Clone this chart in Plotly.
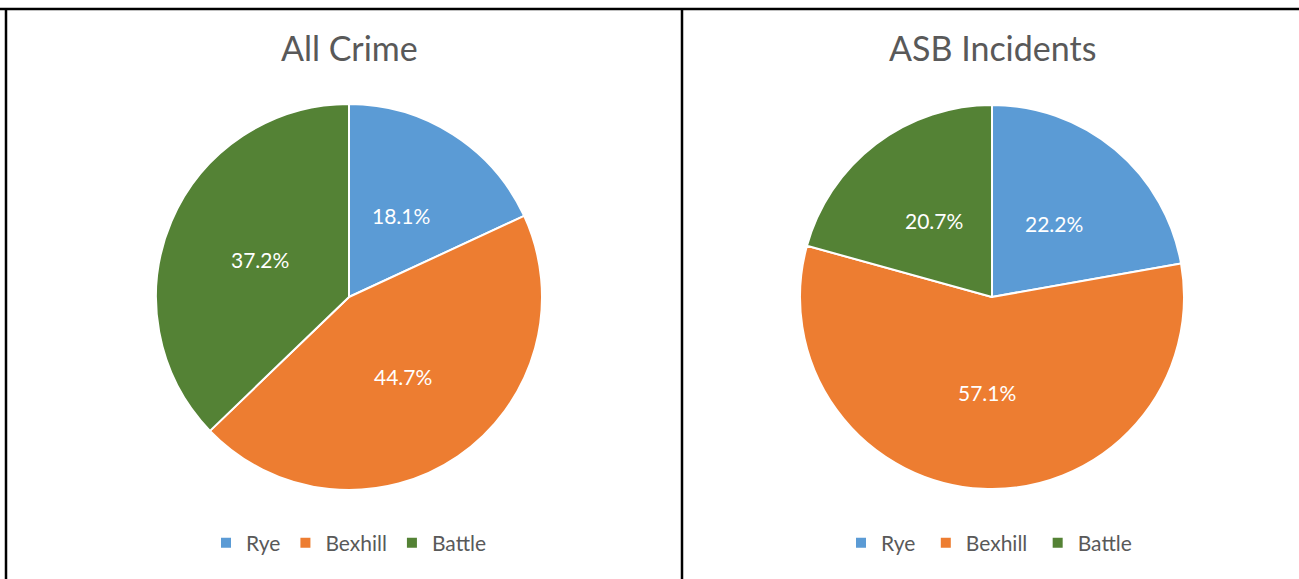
import math
import plotly.graph_objects as go

labels = ["Rye", "Bexhill", "Battle"]
all_crime = [18.1, 44.7, 37.2]
asb_incidents = [22.2, 57.1, 20.7]
titles = ["All Crime", "ASB Incidents"]
colors = ["#5B9BD5", "#ED7D31", "#548235"]

W, H = 1299, 579
FONT = "Lato, 'Open Sans', sans-serif"

# pie geometry in pixels: centre x, centre y (from top), radius
pies = [(349, 297, 193), (992, 297, 192)]
series = [all_crime, asb_incidents]

fig = go.Figure()

def dom(cx, cy, r):
    return dict(x=[(cx - r) / W, (cx + r) / W], y=[1 - (cy + r) / H, 1 - (cy - r) / H])

for i, (vals, (cx, cy, r)) in enumerate(zip(series, pies)):
    fig.add_trace(go.Pie(
        # trailing space keeps the second pie's legend entries separate from the first
        labels=[l + " " * i for l in labels], values=vals, sort=False,
        direction="clockwise", rotation=0,
        marker=dict(colors=colors, line=dict(color="white", width=2)),
        textinfo="none",
        domain=dom(cx, cy, r), legend="legend" if i == 0 else "legend2",
        hoverinfo="label+value",
    ))
    # data labels at half radius on each slice's mid-angle (Excel style)
    total = sum(vals)
    cum = 0.0
    for v in vals:
        ang = 2 * math.pi * (cum + v / 2) / total
        cum += v
        px = cx + 0.5 * r * math.sin(ang)
        py = cy - 0.5 * r * math.cos(ang)
        fig.add_annotation(text=f"{v:.1f}%", x=px / W, y=1 - py / H, xref="paper", yref="paper",
                           showarrow=False, xanchor="center", yanchor="middle",
                           font=dict(size=21, color="white", family=FONT))

legend_common = dict(orientation="h", xanchor="center", yanchor="middle",
                     font=dict(size=21, color="#595959", family=FONT),
                     itemwidth=30, bgcolor="rgba(0,0,0,0)")
fig.update_layout(
    legend=dict(x=pies[0][0] / W, y=1 - 543 / H, **legend_common),
    legend2=dict(x=pies[1][0] / W, y=1 - 543 / H, **legend_common),
)

for t, (cx, _, _) in zip(titles, pies):
    fig.add_annotation(text=t, x=cx / W, y=1 - 48 / H, xref="paper", yref="paper",
                       showarrow=False, xanchor="center", yanchor="middle",
                       font=dict(size=34, color="#595959", family=FONT))

# panel borders
line = dict(color="black", width=2.5)
fig.add_shape(type="line", xref="paper", yref="paper", x0=0, x1=1, y0=1 - 9 / H, y1=1 - 9 / H, line=line)
fig.add_shape(type="line", xref="paper", yref="paper", x0=6 / W, x1=6 / W, y0=0, y1=1 - 9 / H, line=line)
fig.add_shape(type="line", xref="paper", yref="paper", x0=682 / W, x1=682 / W, y0=0, y1=1 - 9 / H, line=line)

fig.update_layout(
    width=W, height=H, margin=dict(l=0, r=0, t=0, b=0),
    paper_bgcolor="white", plot_bgcolor="white", showlegend=True,
)

fig.write_html("out.html", config={"displayModeBar": False},
               post_script="document.body.style.margin='0';document.body.style.overflow='hidden';")
